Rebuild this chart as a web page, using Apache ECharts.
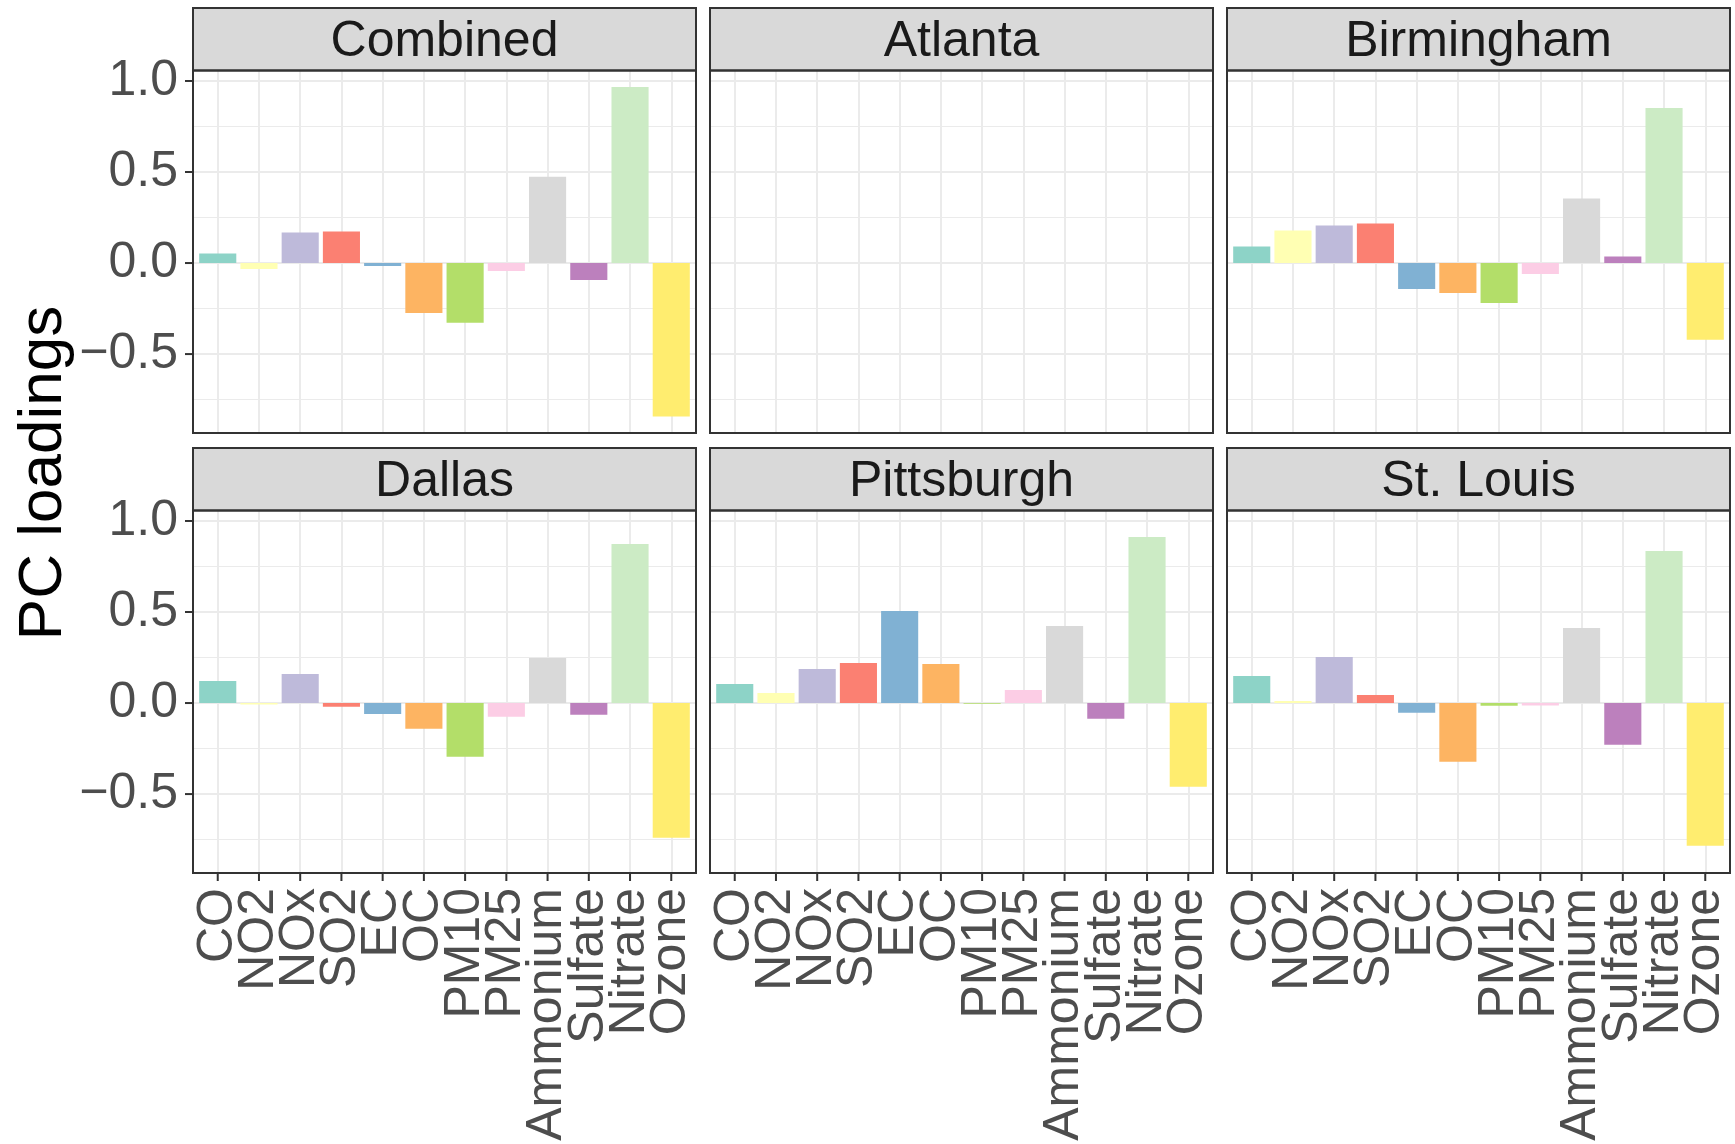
<!DOCTYPE html>
<html>
<head>
<meta charset="utf-8">
<script src="https://cdn.jsdelivr.net/npm/echarts@6/dist/echarts.min.js"></script>
<style>
  html, body { margin: 0; padding: 0; background: #ffffff; }
  #chart { width: 1735px; height: 1144px; }
</style>
</head>
<body>
<div id="chart"></div>
<script>
// Pollutants on the x axis, in plotting order, with their fill colours
const pollutants = ['CO', 'NO2', 'NOx', 'SO2', 'EC', 'OC', 'PM10', 'PM25', 'Ammonium', 'Sulfate', 'Nitrate', 'Ozone'];
const pollutantColors = ['#8DD3C7', '#FFFFB3', '#BEBADA', '#FB8072', '#80B1D3', '#FDB462',
                         '#B3DE69', '#FCCDE5', '#D9D9D9', '#BC80BD', '#CCEBC5', '#FFED6F'];

// Facet titles
const panelNames = ['Combined', 'Atlanta', 'Birmingham', 'Dallas', 'Pittsburgh', 'St. Louis'];

// PC loadings per facet (same order as pollutants)
const combined   = [0.053, -0.033, 0.168, 0.173, -0.016, -0.274, -0.328, -0.044, 0.474, -0.093, 0.967, -0.843];
const atlanta    = [];
const birmingham = [0.091, 0.179, 0.206, 0.217, -0.142, -0.164, -0.219, -0.060, 0.354, 0.036, 0.852, -0.422];
const dallas     = [0.121, -0.008, 0.159, -0.020, -0.060, -0.141, -0.295, -0.075, 0.247, -0.064, 0.874, -0.740];
const pittsburgh = [0.104, 0.055, 0.187, 0.220, 0.505, 0.214, -0.004, 0.071, 0.423, -0.086, 0.912, -0.460];
const stLouis    = [0.148, 0.011, 0.253, 0.044, -0.053, -0.322, -0.015, -0.013, 0.412, -0.229, 0.835, -0.784];

// Axis ticks
const yMajorTicks = [-0.5, 0, 0.5, 1.0];
const yMinorTicks = [-0.75, -0.25, 0.25, 0.75];
const yTitle = 'PC loadings';

const panelValues = [combined, atlanta, birmingham, dallas, pittsburgh, stLouis];

// ---- layout ----
const FONT = '"Liberation Sans", Arial, Helvetica, sans-serif';
const INK = '#333333';
const TICK_LEN = 7;
const colLeft = [193, 710, 1227];
const panelW = 503;
const rowTop = [70.5, 510.5];
const panelH = 362.5;
const stripH = 62.5;
const nCat = pollutants.length;
const unit = panelW / (nCat - 1 + 1.2);   // discrete scale padded by 0.6 on each side
const barW = unit * 0.9;

// shared y range, padded by 5% like a continuous ggplot scale
const allVals = panelValues.flat();
const dMin = Math.min(...allVals), dMax = Math.max(...allVals);
const pad = (dMax - dMin) * 0.05;
const yMin = dMin - pad, yMax = dMax + pad;
const xMin = -0.6, xMax = nCat - 1 + 0.6;

const catIdx = pollutants.map((_, i) => i);
const fmtY = v => v.toFixed(1).replace('-', '\u2212');

const grids = [], xAxes = [], yAxes = [], series = [], graphics = [];

panelNames.forEach((name, p) => {
  const r = Math.floor(p / 3), c = p % 3;
  const left = colLeft[c], top = rowTop[r];

  // panel grid: grid lines, y axis, bars
  grids.push({ left: left, top: top, width: panelW, height: panelH, containLabel: false,
               show: true, backgroundColor: '#ffffff', borderWidth: 0 });

  xAxes.push({
    gridIndex: p, type: 'value', position: 'bottom', min: xMin, max: xMax,
    axisLine: { show: false, onZero: false },
    axisTick: { show: false, customValues: catIdx },
    axisLabel: { show: false, customValues: catIdx },
    splitLine: { show: true, lineStyle: { color: '#EBEBEB', width: 2 } }
  });

  // major y axis: labels and major grid lines
  yAxes.push({
    gridIndex: p, type: 'value', min: yMin, max: yMax, position: 'left',
    axisLine: { show: false, onZero: false },
    axisTick: { show: false, customValues: yMajorTicks },
    axisLabel: { show: c === 0, customValues: yMajorTicks, formatter: fmtY,
                 showMinLabel: true, showMaxLabel: true,
                 margin: 15, fontSize: 50, color: '#4D4D4D', fontFamily: FONT },
    splitLine: { show: true, lineStyle: { color: '#EBEBEB', width: 2.2 } }
  });
  // minor y axis: minor grid lines only
  yAxes.push({
    gridIndex: p, type: 'value', min: yMin, max: yMax, position: 'left',
    axisLine: { show: false, onZero: false },
    axisTick: { show: false, customValues: yMinorTicks },
    axisLabel: { show: false, customValues: yMinorTicks },
    splitLine: { show: true, lineStyle: { color: '#EBEBEB', width: 1.1 } }
  });

  series.push({
    type: 'bar', xAxisIndex: p, yAxisIndex: 2 * p, barWidth: barW,
    data: panelValues[p].map((v, i) => ({ value: [i, v], itemStyle: { color: pollutantColors[i] } })),
    silent: true, z: 3
  });

  // outward tick marks on the left edge (left column) and bottom edge (bottom row)
  if (c === 0) {
    series.push({
      type: 'scatter', xAxisIndex: p, yAxisIndex: 2 * p, silent: true, clip: false, z: 5,
      symbol: 'rect', symbolSize: [TICK_LEN, 2], symbolOffset: [-TICK_LEN / 2 - 1, 0],
      itemStyle: { color: INK, opacity: 1 },
      data: yMajorTicks.map(v => [xMin, v])
    });
  }
  if (r === 1) {
    series.push({
      type: 'scatter', xAxisIndex: p, yAxisIndex: 2 * p, silent: true, clip: false, z: 5,
      symbol: 'rect', symbolSize: [2, TICK_LEN], symbolOffset: [0, TICK_LEN / 2 + 1],
      itemStyle: { color: INK, opacity: 1 },
      data: catIdx.map(i => [i, yMin])
    });
  }

  // facet strip
  graphics.push({
    type: 'rect', z: 100,
    shape: { x: left, y: top - stripH, width: panelW, height: stripH },
    style: { fill: '#D9D9D9', stroke: INK, lineWidth: 2 }
  });
  graphics.push({
    type: 'text', z: 101, x: left + panelW / 2, y: top - stripH / 2 + 3,
    style: { text: name, fill: '#1A1A1A', font: '50px ' + FONT, align: 'center', verticalAlign: 'middle' }
  });
  // panel border
  graphics.push({
    type: 'rect', z: 100,
    shape: { x: left, y: top, width: panelW, height: panelH },
    style: { fill: null, stroke: INK, lineWidth: 2 }
  });
});

// category axes for the bottom row: one band per pollutant, inset so that
// band centres fall on the panel's category positions
[0, 1, 2].forEach(c => {
  const g = grids.length;
  grids.push({ left: colLeft[c] + 0.1 * unit, top: rowTop[1], width: nCat * unit, height: panelH,
               containLabel: false, show: false });
  xAxes.push({
    gridIndex: g, type: 'category', data: pollutants, position: 'bottom', boundaryGap: true,
    axisLine: { show: false, onZero: false },
    axisTick: { show: false },
    axisLabel: { show: true, interval: 0, rotate: 90, margin: 15, fontSize: 50,
                 color: '#4D4D4D', fontFamily: FONT },
    splitLine: { show: false }
  });
  yAxes.push({ gridIndex: g, type: 'value', min: yMin, max: yMax, show: false });
});

graphics.push({
  type: 'text', z: 100, x: 44, y: 473, rotation: Math.PI / 2,
  style: { text: yTitle, fill: '#000000', font: '62px ' + FONT, align: 'center', verticalAlign: 'middle' }
});

const chart = echarts.init(document.getElementById('chart'), null, { renderer: 'canvas' });
chart.setOption({
  animation: false,
  backgroundColor: '#ffffff',
  grid: grids,
  xAxis: xAxes,
  yAxis: yAxes,
  series: series,
  graphic: graphics
});
</script>
</body>
</html>
